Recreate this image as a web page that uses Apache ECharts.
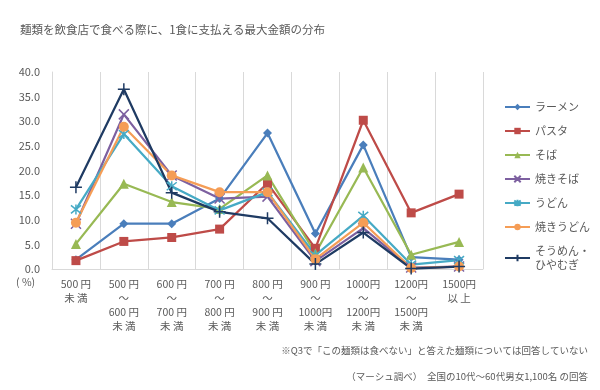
<!DOCTYPE html>
<html><head><meta charset="utf-8">
<script src="https://cdn.jsdelivr.net/npm/echarts@6/dist/echarts.min.js"></script>
<style>html,body{margin:0;padding:0;background:#fff}#c{width:600px;height:390px}</style>
</head><body><div id="c"></div>
<script>
var categories = ['500 円\n未 満','500 円\n～\n600 円\n未 満','600 円\n～\n700 円\n未 満','700 円\n～\n800 円\n未 満','800 円\n～\n900 円\n未 満','900 円\n～\n1000円\n未 満','1000円\n～\n1200円\n未 満','1200円\n～\n1500円\n未 満','1500円\n以 上'];
var seriesNames = ['ラーメン','パスタ','そば','焼きそば','うどん','焼きうどん','そうめん・\nひやむぎ'];
var ramen    = [1.9, 9.2, 9.2, 14.3, 27.6, 7.2, 25.2, 2.4, 1.9];
var pasta    = [1.7, 5.6, 6.4, 8.1, 17.4, 4.2, 30.2, 11.4, 15.2];
var soba     = [5.1, 17.3, 13.6, 12.2, 19.0, 3.2, 20.6, 2.9, 5.5];
var yakisoba = [9.2, 31.4, 19.0, 14.3, 14.7, 1.6, 8.3, 0.3, 0.5];
var udon     = [12.1, 27.4, 16.8, 11.9, 15.6, 2.8, 10.8, 0.9, 1.8];
var yakiudon = [9.4, 28.9, 19.0, 15.6, 15.6, 2.0, 9.4, 0.2, 0.5];
var somen    = [16.6, 36.5, 15.5, 11.6, 10.3, 1.0, 7.4, 0.1, 0.5];
var yTicks = {min: 0, max: 40, interval: 5};

var FONT = '"Noto Sans CJK JP", "Noto Sans", sans-serif';
var colors = ['#4A7EBB','#BE4B48','#98B954','#7D60A0','#46AAC5','#F59D56','#1F3B63'];
var symbols = [
  {s:'diamond', z:9},
  {s:'rect', z:9},
  {s:'triangle', z:10},
  {s:'path://M1,1 L9,9 M9,1 L1,9 Z', z:10, hollow:true},
  {s:'path://M1,1 L9,9 M9,1 L1,9 M5,0 L5,10 Z', z:10, hollow:true},
  {s:'circle', z:10},
  {s:'path://M5,0 L5,10 M0,5 L10,5 Z', z:12, hollow:true}
];
var data = [ramen, pasta, soba, yakisoba, udon, yakiudon, somen];
var series = data.map(function(d, i){
  var sym = symbols[i];
  return {
    name: seriesNames[i], type: 'line', data: d,
    symbol: sym.s, symbolSize: sym.z, showSymbol: true,
    lineStyle: {width: 2.25, color: colors[i]},
    itemStyle: sym.hollow ? {color: 'transparent', borderColor: colors[i], borderWidth: 1.5} : {color: colors[i], borderColor: colors[i], borderWidth: 0},
    emphasis: {disabled: true},
    animation: false
  };
});
var chart = echarts.init(document.getElementById('c'), null, {renderer: 'canvas'});
chart.setOption({
  backgroundColor: '#fff',
  animation: false,
  title: {text: '麺類を飲食店で食べる際に、1食に支払える最大金額の分布', left: 15, top: 19,
    textStyle: {fontFamily: FONT, fontSize: 11.5, fontWeight: 'normal', color: '#595959'}},
  grid: {left: 52, right: 117, top: 72, bottom: 121, containLabel: false},
  legend: {orient: 'vertical', left: 499, top: 95, itemWidth: 25, itemHeight: 8, itemGap: 10,
    textStyle: {fontFamily: FONT, fontSize: 11, color: '#595959', lineHeight: 14},
    data: seriesNames},
  xAxis: {type: 'category', data: categories, boundaryGap: true,
    axisLine: {show: true, lineStyle: {color: '#D9D9D9', width: 1}},
    axisTick: {show: false},
    splitLine: {show: true, lineStyle: {color: '#D9D9D9', width: 1}},
    axisLabel: {interval: 0, fontFamily: FONT, fontSize: 10.5, color: '#595959', lineHeight: 14, margin: 8}},
  yAxis: {type: 'value', min: yTicks.min, max: yTicks.max, interval: yTicks.interval,
    axisLine: {show: true, lineStyle: {color: '#D9D9D9'}},
    axisTick: {show: false},
    splitLine: {show: false},
    axisLabel: {fontFamily: FONT, fontSize: 11, color: '#595959', margin: 12,
      formatter: function(v){ return v.toFixed(1); }}},
  graphic: [
    {type: 'text', left: 16, top: 277, style: {text: '( %)', font: '10.5px ' + FONT, fill: '#595959'}},
    {type: 'text', right: 12, top: 346, style: {text: '※Q3で「この麺類は食べない」と答えた麺類については回答していない', font: '9.5px ' + FONT, fill: '#595959'}},
    {type: 'text', right: 12, top: 372, style: {text: '（マーシュ調べ）　全国の10代～60代男女1,100名 の回答', font: '9.5px ' + FONT, fill: '#595959'}}
  ],
  series: series
});
</script></body></html>
